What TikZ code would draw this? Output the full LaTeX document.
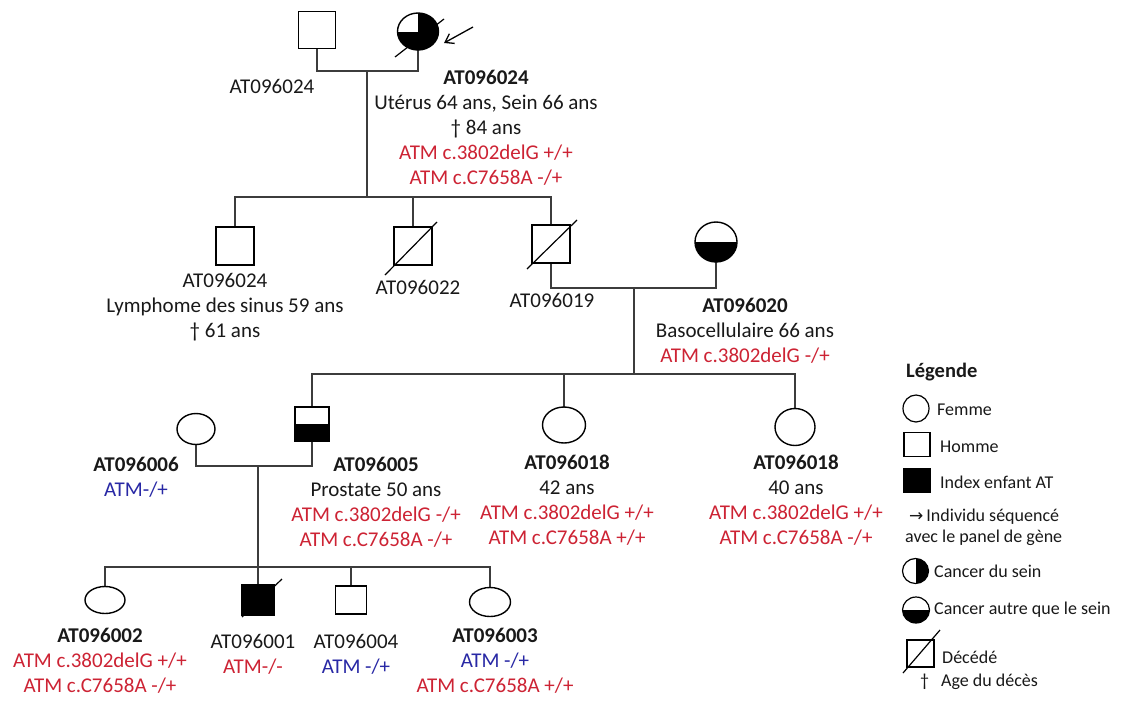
\documentclass[tikz,border=0pt]{standalone}
\usepackage{fontspec}
\setmainfont{Carlito}
\newfontfamily\dejavu{DejaVu Sans}
\usetikzlibrary{shapes.geometric,arrows.meta,calc}
\definecolor{atmred}{RGB}{205,35,52}
\definecolor{atmblue}{RGB}{40,40,165}
\definecolor{txt}{RGB}{25,25,25}
\definecolor{lnc}{RGB}{60,60,60}
\tikzset{
  male/.style={draw=black,line width=1.4pt,rectangle,minimum width=#1,minimum height=#1,inner sep=0pt,fill=white},
  fem/.style={draw=black,line width=1.4pt,ellipse,inner sep=0pt,fill=white},
  botblack/.style={path picture={\fill[black] (path picture bounding box.west) rectangle (path picture bounding box.south east);}},
  rightblack/.style={path picture={\fill[black] (path picture bounding box.north) rectangle (path picture bounding box.south east);}},
  threeq/.style={path picture={\fill[black] (path picture bounding box.west) rectangle (path picture bounding box.south east);
                               \fill[black] (path picture bounding box.center) rectangle (path picture bounding box.north east);}},
  lbl/.style={align=center,text=txt,inner sep=0pt,font=\fontsize{21}{25}\selectfont},
  leg/.style={anchor=west,text=txt,inner sep=0pt,font=\fontsize{18}{21}\selectfont},
  legsym/.style={draw=black,line width=1.2pt,inner sep=0pt},
  link/.style={draw=lnc,line width=1.3pt},
  slash/.style={draw=black,line width=1.2pt},
}
\newcommand{\rd}[1]{\textcolor{atmred}{#1}}
\newcommand{\bl}[1]{\textcolor{atmblue}{#1}}
\begin{document}
\begin{tikzpicture}[x=1pt,y=-1pt]
\useasboundingbox (0,0) rectangle (1121,702);
\fill[white] (0,0) rectangle (1121,702);

% ---------- coordinates ----------
\coordinate (m1) at (367,71);
\coordinate (s1) at (367,197);
\coordinate (m2) at (634,288);
\coordinate (s2) at (634,374);
\coordinate (m3) at (258,466);
\coordinate (s3) at (258,567);

% ---------- connectors (drawn first) ----------
\draw[link] (317,30) |- (m1) -| (418,31.5);
\draw[link] (m1) -- (s1);
\draw[link] (235,246) |- (s1) -| (551,244);
\draw[link] (413,246) -- (413,197);
\draw[link] (551,244) |- (m2) -| (716,242);
\draw[link] (m2) -- (s2);
\draw[link] (312,424) |- (s2) -| (795,427);
\draw[link] (564,425) -- (564,374);
\draw[link] (196,429) |- (m3) -| (312,424);
\draw[link] (m3) -- (258,600);
\draw[link] (105,600) |- (s3) -| (490,602);
\draw[link] (351,600) -- (351,567);

% ---------- generation I ----------
\node[male=37pt] (I1) at (317,30) {};
\node[fem,minimum width=41pt,minimum height=37pt,threeq] (I2) at (418,31.5) {};
\draw[slash] ($(I2.center)+(-23pt,-25.5pt)$) -- ($(I2.center)+(26pt,12.5pt)$);
\coordinate (arrtail) at (473,27);
\draw[line width=1.3pt,-{Straight Barb[length=8pt,width=11pt]}] (arrtail) -- ($(I2.center)+(26pt,-11.5pt)$);

\node[lbl] (LI1) at (272,86) {AT096024};
\node[lbl] (LI2) at (486,127.5) {\textbf{AT096024}\\Utérus 64 ans, Sein 66 ans\\† 84 ans\\\rd{ATM c.3802delG +/+}\\\rd{ATM c.C7658A -/+}};

% ---------- generation II ----------
\node[male=38pt] (II1) at (235,246) {};
\node[male=38pt] (II2) at (413,246) {};
\draw[slash] ($(II2.center)+(-28pt,-29pt)$) -- ($(II2.center)+(24pt,24pt)$);
\node[male=38pt] (II3) at (551,244) {};
\draw[slash] ($(II3.center)+(-24pt,-25pt)$) -- ($(II3.center)+(26pt,24pt)$);
\node[fem,minimum width=42pt,minimum height=40pt,botblack] (II4) at (716,242) {};

\node[lbl] (LII1) at (225,307.5) {AT096024\\Lymphome des sinus 59 ans\\† 61 ans};
\node[lbl] (LII2) at (418,287) {AT096022};
\node[lbl] (LII3) at (552,300) {AT096019};
\node[lbl] (LII4) at (745,331) {\textbf{AT096020}\\Basocellulaire 66 ans\\\rd{ATM c.3802delG -/+}};

% ---------- generation III ----------
\node[fem,minimum width=38pt,minimum height=31pt] (III1) at (196,429) {};
\node[male=34pt,botblack] (III2) at (312,424) {};
\node[fem,minimum width=43pt,minimum height=36pt] (III3) at (564,425) {};
\node[fem,minimum width=40pt,minimum height=37pt] (III4) at (795,427) {};

\node[lbl] (LIII1) at (136,477.5) {\textbf{AT096006}\\\bl{ATM-/+}};
\node[lbl] (LIII2) at (376,502) {\textbf{AT096005}\\Prostate 50 ans\\\rd{ATM c.3802delG -/+}\\\rd{ATM c.C7658A -/+}};
\node[lbl] (LIII3) at (567,500.5) {\textbf{AT096018}\\42 ans\\\rd{ATM c.3802delG +/+}\\\rd{ATM c.C7658A +/+}};
\node[lbl] (LIII4) at (796,500.5) {\textbf{AT096018}\\40 ans\\\rd{ATM c.3802delG +/+}\\\rd{ATM c.C7658A -/+}};

% ---------- generation IV ----------
\node[fem,minimum width=40pt,minimum height=27pt] (IV1) at (105,600) {};
\node[male=32pt,minimum height=30pt,fill=black] (IV2) at (258,600) {};
\draw[slash] ($(IV2.center)+(-16pt,-17pt)$) -- ($(IV2.center)+(24pt,21pt)$);
\node[male=31pt,minimum height=28pt] (IV3) at (351,600) {};
\node[fem,minimum width=41pt,minimum height=29pt] (IV4) at (490,602) {};

\node[lbl] (LIV1) at (100,661) {\textbf{AT096002}\\\rd{ATM c.3802delG +/+}\\\rd{ATM c.C7658A -/+}};
\node[lbl] (LIV2) at (253,654.5) {AT096001\\\rd{ATM-/-}};
\node[lbl] (LIV3) at (356,654.5) {AT096004\\\bl{ATM -/+}};
\node[lbl] (LIV4) at (495,661) {\textbf{AT096003}\\\bl{ATM -/+}\\\rd{ATM c.C7658A +/+}};

% ---------- legend ----------
\node[leg,font=\bfseries\fontsize{20.5}{24}\selectfont] (Lgt) at (906,372) {Légende};
\node[legsym,ellipse,minimum width=26pt,minimum height=27pt] (Lg1) at (916,408.5) {};
\node[leg] (Lg1t) at (937,410) {Femme};
\node[legsym,rectangle,minimum width=26pt,minimum height=24pt] (Lg2) at (917,444.5) {};
\node[leg] (Lg2t) at (940,447) {Homme};
\node[legsym,rectangle,fill=black,minimum width=26pt,minimum height=24pt] (Lg3) at (917,480.5) {};
\node[leg] (Lg3t) at (940,482) {Index enfant AT};
\node[leg] (Lg4t) at (909,517) {{\dejavu\fontsize{17}{18}\selectfont →}\hspace{3pt}Individu séquencé};
\node[leg] (Lg4u) at (905,538) {avec le panel de gène};
\node[legsym,ellipse,minimum width=26pt,minimum height=25pt,rightblack] (Lg5) at (915.5,571) {};
\node[leg] (Lg5t) at (934,571) {Cancer du sein};
\node[legsym,ellipse,minimum width=27pt,minimum height=26pt,botblack] (Lg6) at (916,610) {};
\node[leg] (Lg6t) at (934,610) {Cancer autre que le sein};
\node[legsym,rectangle,minimum size=27pt] (Lg7) at (920.5,653.5) {};
\draw[slash] ($(Lg7.center)+(-17.5pt,-19.5pt)$) -- ($(Lg7.center)+(19.5pt,23.5pt)$);
\node[leg] (Lg7t) at (942,657) {Décédé};
\node[leg] (Lg8d) at (920,682) {†};
\node[leg] (Lg8t) at (941,682) {Age du décès};
\end{tikzpicture}
\end{document}
